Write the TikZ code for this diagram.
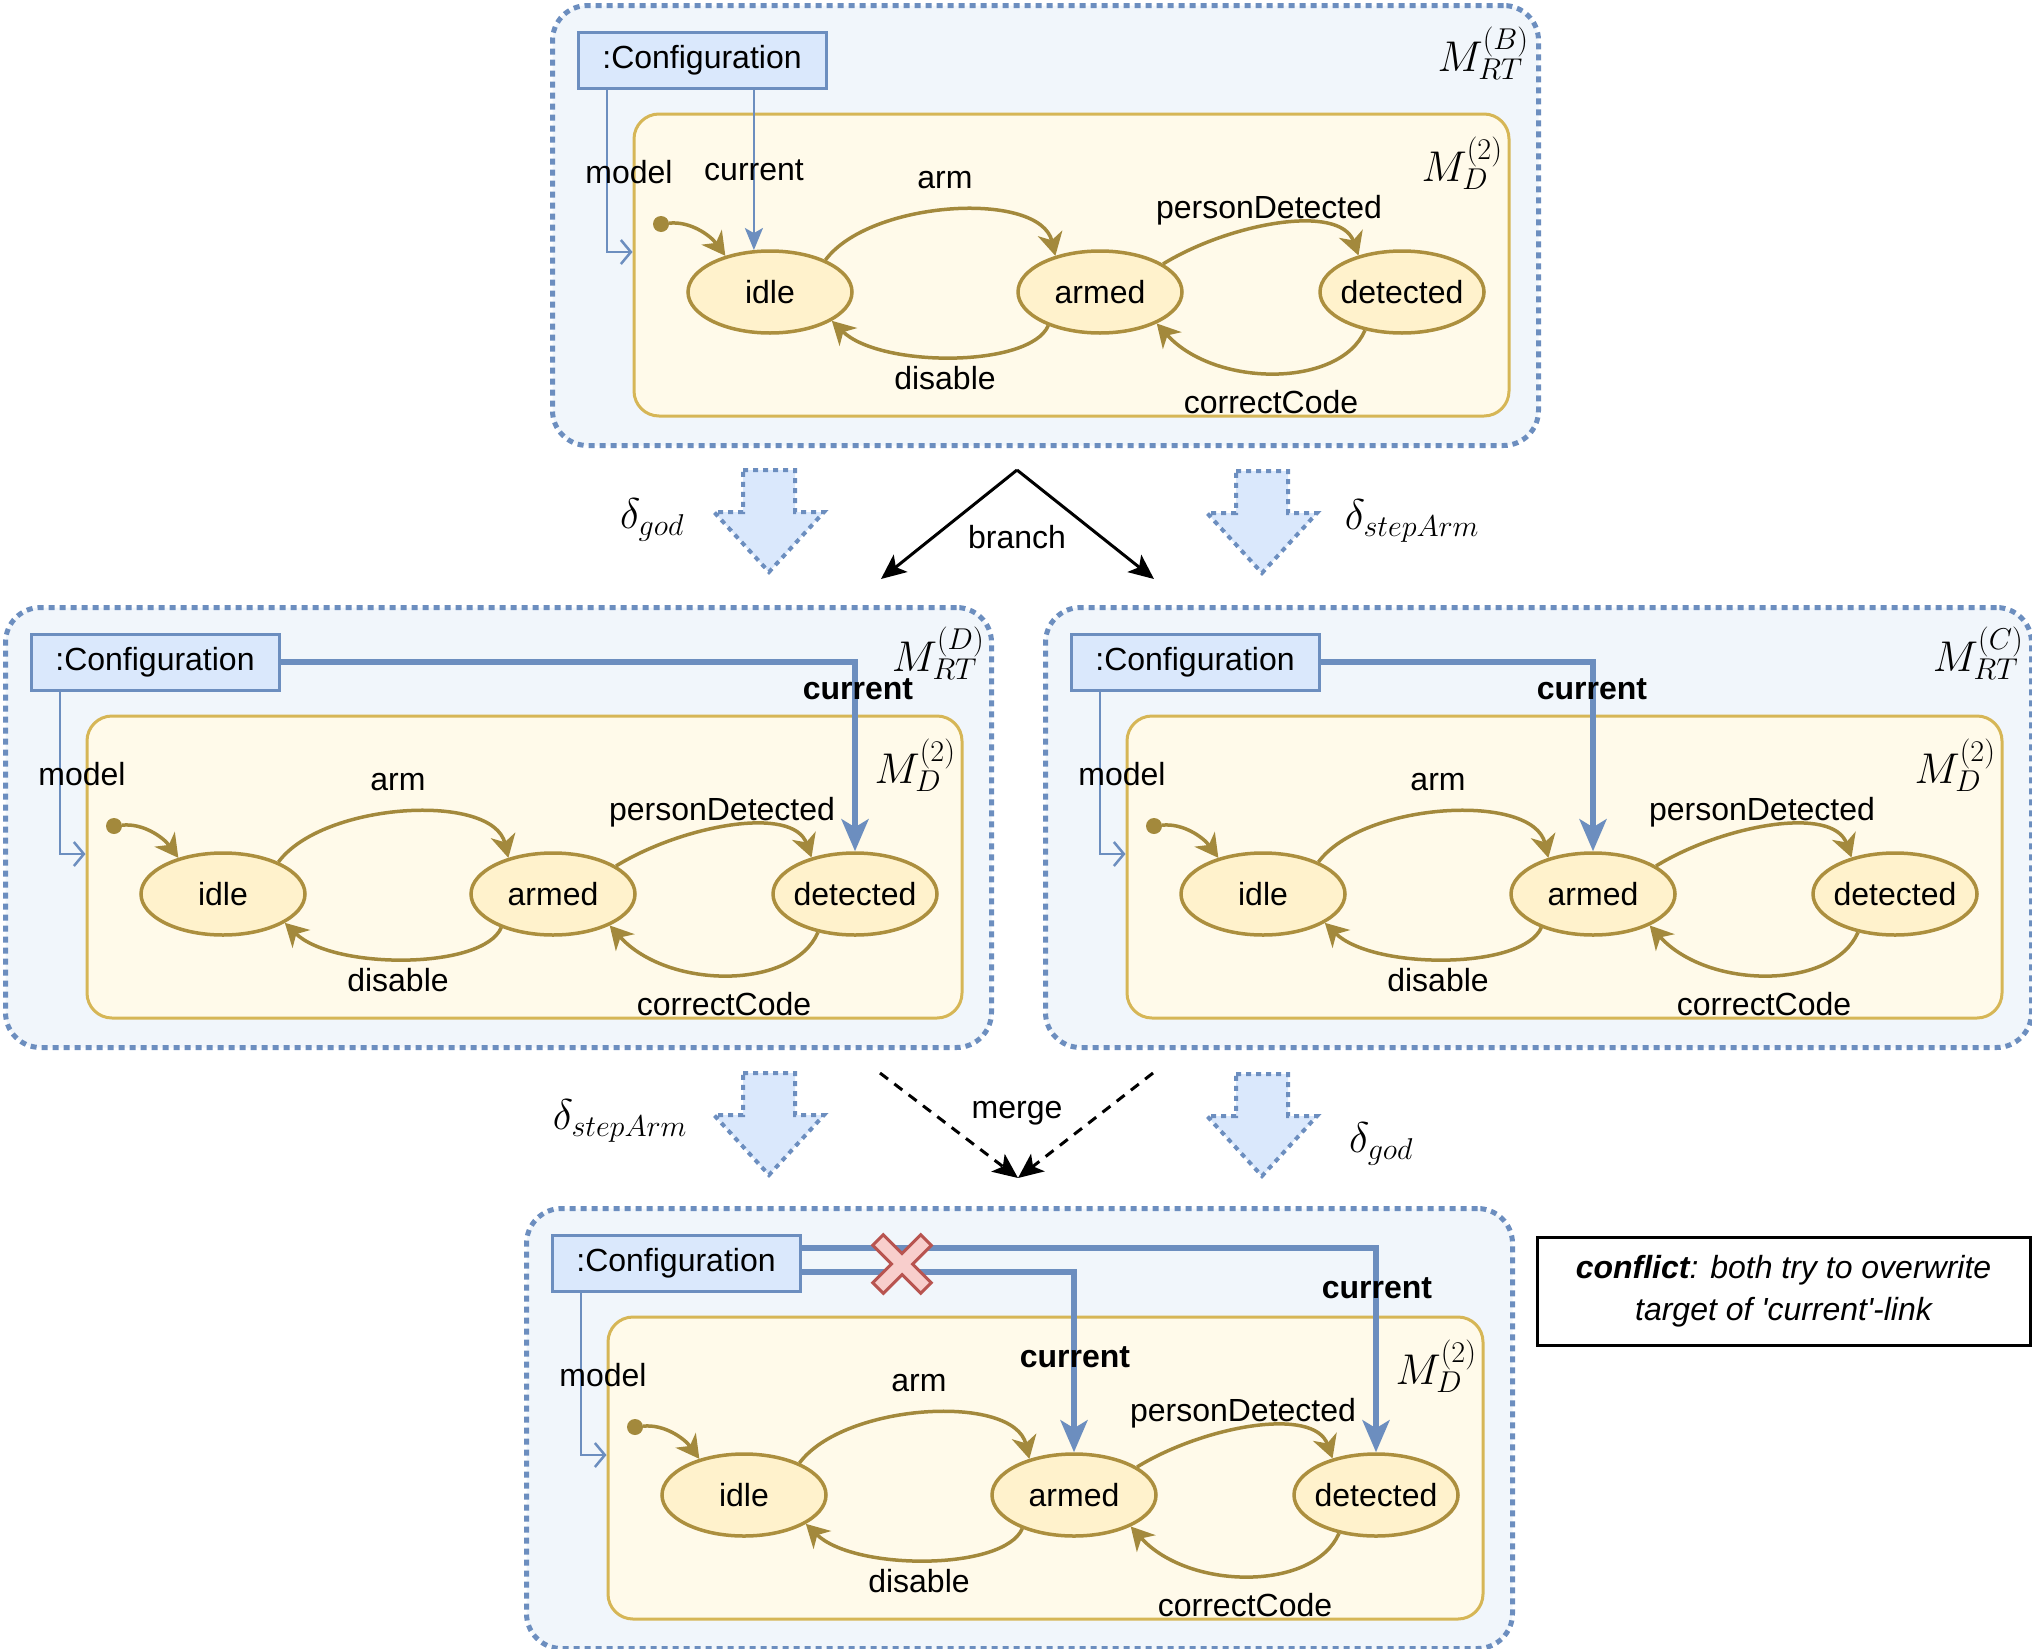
\RequirePackage{fix-cm}
\documentclass[tikz,border=0pt]{standalone}
\usepackage[no-math]{fontspec}
\setmainfont{Liberation Sans}
\usetikzlibrary{shapes.geometric,arrows.meta,calc}
\definecolor{cblue}{RGB}{108,142,191}
\definecolor{cfgfill}{RGB}{218,232,252}
\definecolor{outerfill}{RGB}{241,246,251}
\definecolor{innerdraw}{RGB}{214,182,86}
\definecolor{innerfill}{RGB}{255,250,234}
\definecolor{stfill}{RGB}{255,242,204}
\definecolor{stdraw}{RGB}{172,143,62}
\definecolor{goldline}{RGB}{163,137,60}
\definecolor{xfill}{RGB}{248,206,204}
\definecolor{xdraw}{RGB}{184,84,80}
\newcommand\dgfont{\fontsize{32}{38}\selectfont}
\tikzset{
  outerbox/.style={draw=cblue, fill=outerfill, line width=5pt, dash pattern=on 6pt off 5pt,
    rounded corners=35pt, minimum width=986pt, minimum height=440pt, anchor=north west, inner sep=0pt},
  innerbox/.style={draw=innerdraw, fill=innerfill, line width=3pt, rounded corners=25pt,
    minimum width=875pt, minimum height=302pt, inner sep=0pt},
  cfgbox/.style={draw=cblue, fill=cfgfill, line width=3pt, minimum width=248pt,
    minimum height=56pt, inner sep=0pt, font=\dgfont},
  state/.style={ellipse, draw=stdraw, fill=stfill, line width=3.5pt, minimum width=164pt,
    minimum height=82pt, inner sep=0pt, font=\dgfont},
  initdot/.style={circle, fill=goldline, minimum size=16pt, inner sep=0pt},
  trans/.style={draw=goldline, line width=3.5pt, -{Stealth[length=23pt,width=25pt,inset=7pt]}},
  txt/.style={font=\dgfont, inner sep=0pt},
  txtb/.style={font=\dgfont\bfseries, inner sep=0pt},
  mlab/.style={font=\fontsize{43}{50}\selectfont, inner sep=0pt},
  modellink/.style={draw=cblue, line width=2.5pt, -{Straight Barb[length=10pt,width=24pt]}},
  thincur/.style={draw=cblue, line width=2.5pt, -{Stealth[length=22pt,width=18pt,inset=5pt]}},
  thickcur/.style={draw=cblue, line width=5.5pt, -{Stealth[length=32pt,width=27pt,inset=8pt]}},
  branchar/.style={draw=black, line width=3pt, -{Stealth[length=25pt,width=22pt,inset=6pt]}},
  mergear/.style={branchar, dash pattern=on 10pt off 8pt},
  blockarrow/.style={fill=cfgfill, draw=cblue, line width=4pt, dash pattern=on 5pt off 5pt},
  conflictbox/.style={draw=black, fill=white, line width=3pt, minimum width=493pt,
    minimum height=108pt, align=center, font=\fontsize{32}{42}\selectfont\itshape},
}
\newcommand\drawmodel[4]{%
  \begin{scope}[shift={(#2,#3)}]
    \node[outerbox] (#1frame) at (0,0) {};
    \node[innerbox] (#1inner) at (521.5,262) {};
    \node[cfgbox] (#1cfg) at (152,57) {:Configuration};
    \node[state] (#1idle) at (220,289) {\makebox[0pt]{idle}};
    \node[state] (#1armed) at (550,289) {\makebox[0pt]{armed}};
    \node[state] (#1det) at (852,289) {\makebox[0pt]{detected}};
    \node[initdot] (#1init) at (111,221) {};
    \coordinate (#1mb) at (57,249);
    \draw[trans] (#1init) .. controls (140,218) and (160,232) .. (#1idle.141);
    \draw[trans] (#1idle.30) .. controls (320,197) and (490,187) .. (#1armed.141);
    \draw[trans] (#1armed.24) .. controls (680,220) and (790,200) .. (#1det.140);
    \draw[trans] (#1armed.213) .. controls (480,365) and (330,365) .. (#1idle.335);
    \draw[trans] (#1det.226) .. controls (790,385) and (665,385) .. (#1armed.331);
    \draw[modellink] (#1mb |- #1cfg.south) -- (#1mb) -- (#1mb -| #1inner.west);
    \node[txt] (#1lmodel) at (79,169) {model};
    \node[txt] (#1larm) at (395,177) {arm};
    \node[txt] (#1lpd) at (719,207) {personDetected};
    \node[txt] (#1ldis) at (395,375) {disable};
    \node[txt] (#1lcc) at (721,399) {correctCode};
    \node[mlab] (#1md) at (912,160) {$M_D^{(2)}$};
    #4
  \end{scope}}
\begin{document}
\begin{tikzpicture}[x=1pt,y=-1pt]
\useasboundingbox (0,0) rectangle (2032,1649);
% top model
\drawmodel{T}{550}{3}{%
  \draw[thincur] (Tidle.111 |- Tcfg.south) -- (Tidle.111);
  \node[txt] (Tlcur) at (204,167) {current};
  \node[mlab] (Tmrt) at (933,50) {$M_{RT}^{(B)}$};
}
% middle left
\drawmodel{L}{3}{605}{%
  \draw[thickcur] (Lcfg.east) -| (Ldet.north);
  \node[txtb] (Llcur) at (855,84) {current};
  \node[mlab] (Lmrt) at (935,48) {$M_{RT}^{(D)}$};
}
% middle right
\drawmodel{R}{1043}{605}{%
  \draw[thickcur] (Rcfg.east) -| (Rarmed.north);
  \node[txtb] (Rlcur) at (549,84) {current};
  \node[mlab] (Rmrt) at (935,48) {$M_{RT}^{(C)}$};
}
% bottom
\drawmodel{B}{524}{1206}{%
  \coordinate (Bc1) at ($(Bcfg.east)+(0,-15)$);
  \coordinate (Bc2) at ($(Bcfg.east)+(0,9)$);
  \draw[thickcur] (Bc1) -| (Bdet.north);
  \draw[thickcur] (Bc2) -| (Barmed.north);
  \node[txtb] (Blcur1) at (853,82) {current};
  \node[txtb] (Blcur2) at (551,151) {current};
  \begin{scope}[shift={(378,58)},rotate=45]
    \draw[fill=xfill, draw=xdraw, line width=3pt]
      (7.5,-34) -- (7.5,-7.5) -- (34,-7.5) -- (34,7.5) -- (7.5,7.5) -- (7.5,34)
      -- (-7.5,34) -- (-7.5,7.5) -- (-34,7.5) -- (-34,-7.5) -- (-7.5,-7.5) -- (-7.5,-34) -- cycle;
  \end{scope}
}
% block arrows
\foreach \cx/\cy in {769/470, 1262/471, 769/1073, 1262/1074}{
  \draw[blockarrow] (\cx-26,\cy) -- (\cx+26,\cy) -- (\cx+26,\cy+42) -- (\cx+55,\cy+42)
    -- (\cx,\cy+102) -- (\cx-55,\cy+42) -- (\cx-26,\cy+42) -- cycle;
}
\node[mlab] (d1) at (652,520) {$\delta_{god}$};
\node[mlab] (d2) at (1412,521) {$\delta_{stepArm}$};
\node[mlab] (d3) at (620,1121) {$\delta_{stepArm}$};
\node[mlab] (d4) at (1381,1144) {$\delta_{god}$};
% branch
\coordinate (brTop) at (1017,470);
\coordinate (brL) at (881,579);
\coordinate (brR) at (1154,579);
\draw[branchar] (brTop) -- (brL);
\draw[branchar] (brTop) -- (brR);
\node[txt] (brlab) at (1017,537) {branch};
% merge
\coordinate (mgL) at (880,1073);
\coordinate (mgR) at (1153,1073);
\coordinate (mgTip) at (1018,1178);
\draw[mergear] (mgL) -- (mgTip);
\draw[mergear] (mgR) -- (mgTip);
\node[txt] (mglab) at (1017,1113) {merge};
% conflict note
\node[conflictbox] (conf) at (1783.5,1291) {{\bfseries conflict}: both try to overwrite\\target of \textquotesingle current\textquotesingle -link};
\end{tikzpicture}
\end{document}
